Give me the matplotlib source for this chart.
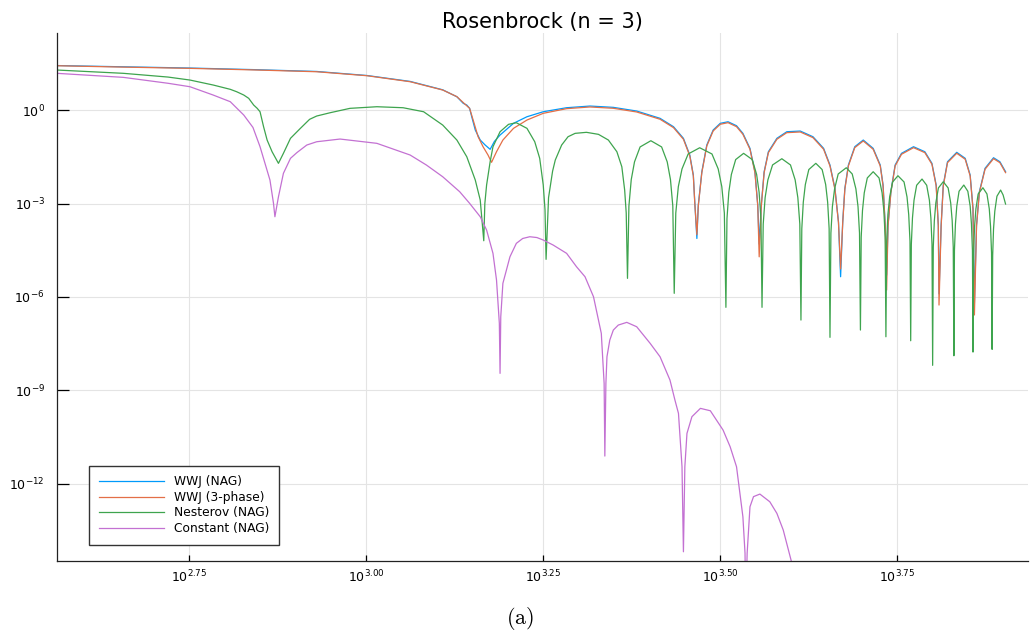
import matplotlib
matplotlib.use('Agg')
import matplotlib.pyplot as plt
import numpy as np
from matplotlib.ticker import NullLocator

# all values are log10 exponents
wwj_nag_logx = [2.563, 2.657, 2.751, 2.840, 2.930, 3.001, 3.062, 3.108, 3.128, 3.137, 3.142, 3.146, 3.149,
                3.154, 3.161, 3.168, 3.175, 3.181, 3.189, 3.208, 3.227, 3.250, 3.283, 3.316, 3.349, 3.382,
                3.415, 3.434, 3.448, 3.457, 3.462, 3.464, 3.467,
                3.469, 3.474, 3.481, 3.490, 3.500, 3.511, 3.523, 3.532, 3.542, 3.549, 3.553, 3.555,
                3.558, 3.562, 3.568, 3.580, 3.594, 3.613, 3.631, 3.646, 3.655, 3.662, 3.667, 3.670,
                3.673, 3.676, 3.681, 3.690, 3.702, 3.716, 3.726, 3.730, 3.733, 3.735,
                3.737, 3.741, 3.747, 3.756, 3.773, 3.789, 3.799, 3.805, 3.808, 3.809,
                3.812, 3.815, 3.821, 3.834, 3.846, 3.853, 3.857, 3.859,
                3.862, 3.866, 3.874, 3.886, 3.895, 3.903]
wwj_nag_logy = [1.44, 1.40, 1.36, 1.31, 1.25, 1.12, 0.93, 0.66, 0.437, 0.225, 0.170, 0.064, -0.206,
                -0.633, -0.955, -1.116, -1.254, -1.0, -0.794, -0.418, -0.206, -0.045, 0.084, 0.138, 0.096, -0.023,
                -0.257, -0.527, -0.900, -1.437, -2.080, -2.939, -4.12,
                -3.045, -1.974, -1.116, -0.633, -0.418, -0.367, -0.495, -0.740, -1.222, -1.974, -3.045, -4.3,
                -3.045, -1.974, -1.331, -0.900, -0.688, -0.666, -0.849, -1.222, -1.759, -2.508, -3.582, -5.35,
                -3.582, -2.508, -1.759, -1.170, -0.955, -1.222, -1.759, -2.402, -3.688, -5.3,
                -3.688, -2.617, -1.759, -1.383, -1.170, -1.331, -1.704, -2.402, -3.688, -5.9,
                -3.688, -2.402, -1.653, -1.350, -1.543, -2.080, -3.151, -6.2,
                -3.688, -2.617, -1.865, -1.524, -1.653, -1.974]

wwj3_logx = [2.563, 2.657, 2.751, 2.840, 2.930, 3.001, 3.062, 3.108, 3.128, 3.137, 3.146, 3.151, 3.158,
             3.165, 3.172, 3.177, 3.184, 3.193, 3.208, 3.227, 3.250, 3.283, 3.316, 3.349, 3.382,
             3.415, 3.434, 3.448, 3.457, 3.462, 3.464, 3.467,
             3.469, 3.474, 3.481, 3.490, 3.500, 3.511, 3.523, 3.532, 3.542, 3.549, 3.553, 3.555,
             3.558, 3.562, 3.568, 3.580, 3.594, 3.613, 3.631, 3.646, 3.655, 3.662, 3.667, 3.670,
             3.673, 3.676, 3.681, 3.690, 3.702, 3.716, 3.726, 3.730, 3.733, 3.735,
             3.737, 3.741, 3.747, 3.756, 3.773, 3.789, 3.799, 3.805, 3.808, 3.809,
             3.812, 3.815, 3.821, 3.834, 3.846, 3.853, 3.857, 3.859,
             3.862, 3.866, 3.874, 3.886, 3.895, 3.903]
wwj3_logy = [1.434, 1.39, 1.350, 1.30, 1.241, 1.113, 0.920, 0.653, 0.44, 0.25, 0.064, -0.312, -0.849,
             -1.170, -1.437, -1.672, -1.331, -0.955, -0.579, -0.312, -0.096, 0.054, 0.108, 0.066, -0.053,
             -0.287, -0.557, -0.930, -1.467, -2.110, -2.969, -4.0,
             -3.075, -2.004, -1.146, -0.663, -0.448, -0.397, -0.525, -0.770, -1.252, -2.004, -3.075, -4.71,
             -3.075, -2.004, -1.361, -0.930, -0.718, -0.696, -0.879, -1.252, -1.789, -2.538, -3.612, -5.1,
             -3.612, -2.538, -1.789, -1.200, -0.985, -1.252, -1.789, -2.432, -3.718, -5.78,
             -3.718, -2.647, -1.789, -1.413, -1.200, -1.361, -1.734, -2.432, -3.718, -6.26,
             -3.718, -2.432, -1.683, -1.380, -1.573, -2.110, -3.181, -6.58,
             -3.718, -2.647, -1.895, -1.554, -1.683, -2.004]

nesterov_logx = [2.563, 2.657, 2.720, 2.751, 2.784, 2.808, 2.817, 2.827, 2.834, 2.841, 2.846, 2.850, 2.855, 2.860,
                 2.867, 2.876, 2.883, 2.893, 2.907, 2.920, 2.930, 2.949, 2.977, 3.015, 3.052, 3.081, 3.108,
                 3.128, 3.142, 3.154, 3.161, 3.166,
                 3.1675, 3.170, 3.175, 3.179, 3.189, 3.201, 3.212, 3.227, 3.238, 3.245, 3.250, 3.2525, 3.254,
                 3.2575, 3.2632, 3.267, 3.276, 3.285, 3.295, 3.311, 3.328, 3.342, 3.354, 3.361, 3.365, 3.3672, 3.369,
                 3.3710, 3.3743, 3.3789, 3.3868, 3.402, 3.4172, 3.4251, 3.4297, 3.4330, 3.435,
                 3.4372, 3.4408, 3.4460, 3.4547, 3.471, 3.4883, 3.4971, 3.5022, 3.5058, 3.508,
                 3.5095, 3.5121, 3.5157, 3.5218, 3.533, 3.5452, 3.5514, 3.5549, 3.5575, 3.559,
                 3.5607, 3.5634, 3.5673, 3.5739, 3.587, 3.5992, 3.6058, 3.6096, 3.6124, 3.614,
                 3.6152, 3.6173, 3.6202, 3.6251, 3.635, 3.6439, 3.6489, 3.6517, 3.6538, 3.655,
                 3.6563, 3.6584, 3.6615, 3.6666, 3.678, 3.6864, 3.6916, 3.6946, 3.6967, 3.698,
                 3.6991, 3.7009, 3.7034, 3.7077, 3.716, 3.7243, 3.7286, 3.7311, 3.7329, 3.734,
                 3.7351, 3.7368, 3.7393, 3.7435, 3.751, 3.7596, 3.7638, 3.7662, 3.7680, 3.769,
                 3.7699, 3.7715, 3.7737, 3.7774, 3.785, 3.7916, 3.7954, 3.7975, 3.7991, 3.800,
                 3.8009, 3.8024, 3.8045, 3.8081, 3.815, 3.8219, 3.8255, 3.8276, 3.8291, 3.830,
                 3.8308, 3.8322, 3.8341, 3.8373, 3.844, 3.8497, 3.8530, 3.8548, 3.8562, 3.857,
                 3.8578, 3.8592, 3.8611, 3.8643, 3.871, 3.8767, 3.8800, 3.8818, 3.8832, 3.884,
                 3.8848, 3.8860, 3.8878, 3.8908, 3.896, 3.8995, 3.903]
nesterov_logy = [1.296, 1.19, 1.07, 0.974, 0.813, 0.675, 0.598, 0.492, 0.386, 0.170, 0.064, -0.045, -0.527, -0.955,
                 -1.331, -1.704, -1.383, -0.900, -0.579, -0.289, -0.183, -0.077, 0.064, 0.116, 0.084, -0.045, -0.473,
                 -0.955, -1.492, -2.241, -2.884, -4.193,
                 -3.0, -2.40, -1.653, -1.170, -0.688, -0.450, -0.399, -0.579, -1.010, -1.543, -2.40, -3.2, -4.791,
                 -2.807, -1.957, -1.598, -1.116, -0.849, -0.740, -0.707, -0.772, -0.955, -1.331, -1.814, -2.563, -3.3, -5.402,
                 -3.077, -2.227, -1.657, -1.177, -0.977, -1.177, -1.657, -2.227, -3.077, -5.884,
                 -3.303, -2.453, -1.883, -1.403, -1.203, -1.403, -1.883, -2.453, -3.303, -6.334,
                 -3.483, -2.633, -2.063, -1.583, -1.383, -1.583, -2.063, -2.633, -3.483, -6.334,
                 -3.656, -2.806, -2.236, -1.756, -1.556, -1.756, -2.236, -2.806, -3.656, -6.743,
                 -3.804, -2.954, -2.384, -1.904, -1.704, -1.904, -2.384, -2.954, -3.804, -7.299,
                 -3.946, -3.096, -2.526, -2.046, -1.846, -2.046, -2.526, -3.096, -3.946, -7.064,
                 -4.074, -3.224, -2.654, -2.174, -1.974, -2.174, -2.654, -3.224, -4.074, -7.280,
                 -4.203, -3.353, -2.783, -2.303, -2.103, -2.303, -2.783, -3.353, -4.203, -7.408,
                 -4.309, -3.459, -2.889, -2.409, -2.209, -2.409, -2.889, -3.459, -4.309, -8.199,
                 -4.396, -3.546, -2.976, -2.496, -2.296, -2.496, -2.976, -3.546, -4.396, -7.891,
                 -4.502, -3.652, -3.082, -2.602, -2.402, -2.602, -3.082, -3.652, -4.502, -7.772,
                 -4.589, -3.739, -3.169, -2.689, -2.489, -2.689, -3.169, -3.739, -4.589, -7.685,
                 -4.663, -3.813, -3.243, -2.763, -2.563, -2.72, -3.013]

constant_logx = [2.563, 2.657, 2.720, 2.751, 2.784, 2.808, 2.827, 2.840, 2.850, 2.864, 2.869, 2.871, 2.876, 2.883,
                 2.893, 2.902, 2.916, 2.930, 2.963, 3.015, 3.062, 3.085, 3.108, 3.132, 3.146, 3.161, 3.170,
                 3.179, 3.184, 3.188, 3.189,
                 3.190, 3.193, 3.203, 3.212, 3.221, 3.231, 3.241, 3.250, 3.264, 3.283, 3.297, 3.309, 3.321,
                 3.332, 3.336, 3.337,
                 3.3385, 3.340, 3.344, 3.349, 3.356, 3.368, 3.382, 3.401, 3.415, 3.429, 3.436, 3.441, 3.446, 3.448,
                 3.450, 3.453, 3.460, 3.472, 3.486, 3.504, 3.514, 3.523, 3.532, 3.535, 3.536,
                 3.538, 3.542, 3.547, 3.556, 3.570, 3.580, 3.589, 3.600, 3.612]
constant_logy = [1.190, 1.06, 0.87, 0.759, 0.49, 0.277, -0.151, -0.55, -1.170, -2.241, -2.99, -3.421, -2.78, -2.026,
                 -1.543, -1.36, -1.116, -1.010, -0.923, -1.061, -1.437, -1.759, -2.135, -2.617, -2.990, -3.421, -3.849,
                 -4.598, -5.457, -6.849, -8.457,
                 -6.64, -5.563, -4.707, -4.277, -4.12, -4.064, -4.09, -4.170, -4.331, -4.598, -5.029, -5.350, -5.994,
                 -7.170, -8.78, -11.116,
                 -8.78, -7.923, -7.386, -7.064, -6.904, -6.817, -6.958, -7.492, -7.923, -8.672, -9.315, -9.743, -11.46, -14.193,
                 -11.46, -10.386, -9.85, -9.582, -9.659, -10.280, -10.817, -11.460, -13.068, -14.24, -16.0,
                 -14.24, -12.746, -12.42, -12.338, -12.585, -12.958, -13.495, -14.46, -15.5]

series_names = ['WWJ (NAG)', 'WWJ (3-phase)', 'Nesterov (NAG)', 'Constant (NAG)']
series_colors = ['#009AFA', '#E36F47', '#3EA44E', '#C371D2']

xtick_exp = [2.75, 3.00, 3.25, 3.50, 3.75]
xtick_labels = [r'$10^{2.75}$', r'$10^{3.00}$', r'$10^{3.25}$', r'$10^{3.50}$', r'$10^{3.75}$']
ytick_exp = [0, -3, -6, -9, -12]
ytick_labels = [r'$10^{0}$', r'$10^{-3}$', r'$10^{-6}$', r'$10^{-9}$', r'$10^{-12}$']

fig = plt.figure(figsize=(10.3, 6.36), dpi=100)
ax = fig.add_axes([0.0556, 0.1184, 0.9424, 0.8292])
ax.set_xscale('log')
ax.set_yscale('log')

all_x = [wwj_nag_logx, wwj3_logx, nesterov_logx, constant_logx]
all_y = [wwj_nag_logy, wwj3_logy, nesterov_logy, constant_logy]
for lx, ly, name, col in zip(all_x, all_y, series_names, series_colors):
    ax.plot(10.0 ** np.array(lx), 10.0 ** np.array(ly), color=col, lw=0.9, label=name)

ax.set_xlim(10 ** 2.5636, 10 ** 3.9346)
ax.set_ylim(10 ** -14.48, 10 ** 2.476)

ax.set_xticks(10.0 ** np.array(xtick_exp))
ax.set_xticklabels(xtick_labels)
ax.set_yticks(10.0 ** np.array(ytick_exp, dtype=float))
ax.set_yticklabels(ytick_labels)
ax.xaxis.set_minor_locator(NullLocator())
ax.yaxis.set_minor_locator(NullLocator())

ax.grid(True, color='#e4e4e4', lw=0.8)
ax.set_axisbelow(True)
for s in ['top', 'right']:
    ax.spines[s].set_visible(False)
for s in ['left', 'bottom']:
    ax.spines[s].set_linewidth(0.9)
    ax.spines[s].set_color('#222222')
ax.tick_params(axis='y', direction='in', length=8.4, width=0.9, pad=9, labelsize=9)
ax.tick_params(axis='x', direction='in', length=4.1, width=0.9, pad=6, labelsize=9)

ax.set_title('Rosenbrock (n = 3)', fontsize=15, pad=4)

leg = ax.legend(loc='upper left', bbox_to_anchor=(89.3 / 1030, 1 - 465.7 / 636), bbox_transform=fig.transFigure,
                fontsize=8.8, fancybox=False, framealpha=1, edgecolor='#333333', borderaxespad=0,
                handlelength=5.3, handletextpad=0.8, labelspacing=0.2, borderpad=0.8)
leg.get_frame().set_linewidth(1.0)

fig.text(520 / 1030, 1 - 618 / 636, r'$\mathrm{(a)}$', math_fontfamily='cm', fontsize=16,
         ha='center', va='center')

plt.savefig('out.png', dpi=100)
